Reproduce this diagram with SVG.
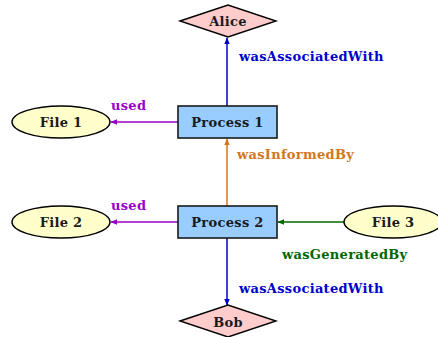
<svg xmlns="http://www.w3.org/2000/svg" width="438" height="337" viewBox="0 0 438 337">
<style>
text{font-family:"DejaVu Serif","Liberation Serif",serif;font-weight:bold;font-size:13px;letter-spacing:0.3px}
.lbl{text-anchor:middle;fill:#1a1a1a}
.agent{fill:#FFCCCC;stroke:#000;stroke-width:1.4}
.proc{fill:#99CCFF;stroke:#1a1a1a;stroke-width:1.6}
.file{fill:#FFFFCC;stroke:#000;stroke-width:1.4}
.e{fill:none;stroke-width:1.5}
</style>
<defs>
<marker id="ab" viewBox="0 0 10 10" refX="9" refY="5" markerWidth="7" markerHeight="7" orient="auto" markerUnits="userSpaceOnUse"><path d="M0,1 L10,5 L0,9 z" fill="#0000CC"/></marker>
<marker id="ap" viewBox="0 0 10 10" refX="9" refY="5" markerWidth="7" markerHeight="7" orient="auto" markerUnits="userSpaceOnUse"><path d="M0,1 L10,5 L0,9 z" fill="#9900CC"/></marker>
<marker id="ao" viewBox="0 0 10 10" refX="9" refY="5" markerWidth="7" markerHeight="7" orient="auto" markerUnits="userSpaceOnUse"><path d="M0,1 L10,5 L0,9 z" fill="#D2771E"/></marker>
<marker id="ag" viewBox="0 0 10 10" refX="9" refY="5" markerWidth="7" markerHeight="7" orient="auto" markerUnits="userSpaceOnUse"><path d="M0,1 L10,5 L0,9 z" fill="#006600"/></marker>
</defs>
<g id="connectors">
<line class="e" x1="227" y1="106" x2="227" y2="38" stroke="#0000CC" marker-end="url(#ab)"/>
<text x="239" y="61" fill="#0000CC">wasAssociatedWith</text>
<line class="e" x1="178" y1="122" x2="111" y2="122" stroke="#9900CC" marker-end="url(#ap)"/>
<text x="111" y="110" fill="#9900CC">used</text>
<line class="e" x1="227" y1="206" x2="227" y2="139" stroke="#D2771E" marker-end="url(#ao)"/>
<text x="237" y="159" fill="#D2771E">wasInformedBy</text>
<line class="e" x1="178" y1="222" x2="111" y2="222" stroke="#9900CC" marker-end="url(#ap)"/>
<text x="111" y="210" fill="#9900CC">used</text>
<line class="e" x1="344" y1="222" x2="278" y2="222" stroke="#006600" marker-end="url(#ag)"/>
<text x="282" y="259" fill="#006600">wasGeneratedBy</text>
<line class="e" x1="227" y1="238" x2="227" y2="305" stroke="#0000CC" marker-end="url(#ab)"/>
<text x="239" y="293" fill="#0000CC">wasAssociatedWith</text>
</g>
<g id="alice"><polygon class="agent" points="180,21 228,5 276,21 228,37"/><text class="lbl" x="228" y="26">Alice</text></g>
<g id="process1"><rect class="proc" x="178" y="106" width="99" height="32"/><text class="lbl" x="227.5" y="127">Process 1</text></g>
<g id="file1"><ellipse class="file" cx="61" cy="122" rx="49" ry="16"/><text class="lbl" x="61" y="127">File 1</text></g>
<g id="process2"><rect class="proc" x="178" y="206" width="99" height="32"/><text class="lbl" x="227.5" y="227">Process 2</text></g>
<g id="file2"><ellipse class="file" cx="61" cy="222" rx="49" ry="16"/><text class="lbl" x="61" y="227">File 2</text></g>
<g id="file3"><ellipse class="file" cx="393" cy="222" rx="49" ry="16"/><text class="lbl" x="393" y="227">File 3</text></g>
<g id="bob"><polygon class="agent" points="180,321 228,305 276,321 228,337"/><text class="lbl" x="228" y="327">Bob</text></g>
</svg>
